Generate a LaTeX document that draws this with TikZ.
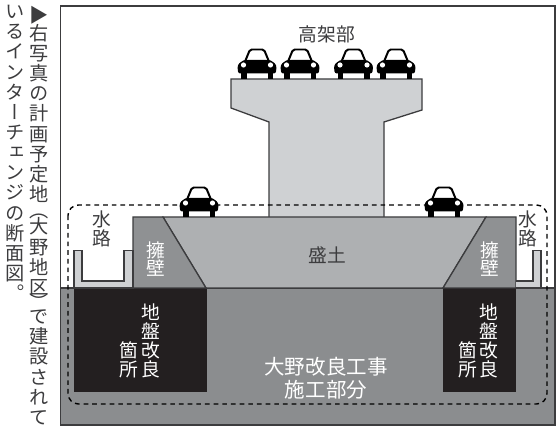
\documentclass[tikz,border=0pt]{standalone}
\usepackage{fontspec}
\setmainfont{Noto Sans CJK JP}
\newfontfamily\jpstack[RawFeature={+vert}]{Noto Sans CJK JP}
\usetikzlibrary{calc}
\definecolor{groundgray}{HTML}{8B8D8F}
\definecolor{wallgray}{HTML}{8F9193}
\definecolor{fillgray}{HTML}{AEB0B2}
\definecolor{piergray}{HTML}{CFD1D3}
\definecolor{edgegray}{HTML}{3C3C3E}
\definecolor{softblack}{HTML}{231F20}
\tikzset{
	section/.style={draw=edgegray, line width=1.1pt, line join=miter},
	label/.style={inner sep=0, align=center, font=\fontsize{16}{16}\selectfont, text=edgegray},
	whitelabel/.style={label, text=white},
	sidetext/.style={inner sep=0, align=center, anchor=north, text=edgegray, font=\fontsize{16.4}{17.2}\selectfont\jpstack}
}
\def\drawcar(#1,#2){
	\begin{scope}[shift={(#1,#2)}]
		\draw[line width=1.7pt, fill=white, rounded corners=1.5pt] (-13, -15) -- (-7, -29.5) -- (7, -29.5) -- (13, -15) -- cycle;
		\fill[black] (-16, -6) rectangle (-10.5, 0);
		\fill[black] (10.5, -6) rectangle (16, 0);
		\fill[black, rounded corners=2pt] (-12, -19) -- (12, -19) -- (15, -18) -- (19.5, -14) -- (19, -5.5) -- (-19, -5.5) -- (-19.5, -14) -- (-15, -18) -- cycle;
		\fill[white] (-13.5, -14) circle (2.6);
		\fill[white] (13.5, -14) circle (2.6);
	\end{scope}
}
\begin{document}
\begin{tikzpicture}[x=0.03cm, y=-0.03cm]
	\useasboundingbox (0, 0) rectangle (556, 427);
	\fill[white] (0, 0) rectangle (556, 427);

	% frame and ground
	\draw[fill=white, draw=edgegray, line width=1.2pt] (60.5, 6) rectangle (555, 425);
	\draw[section, fill=groundgray] (60.5, 288) rectangle (555, 425);

	% improved ground
	\draw[fill=softblack, draw=softblack] (74, 288) rectangle (206, 391);
	\draw[fill=softblack, draw=softblack] (443, 288) rectangle (515, 391);

	% elevated part
	\draw[section, fill=piergray] (269, 217) -- (269, 122) -- (231, 108) -- (231, 79) -- (422, 79) -- (422, 110) -- (384, 122) -- (384, 217);

	% embankment and walls
	\draw[section, fill=fillgray] (163, 217) -- (486, 217) -- (443, 288) -- (206, 288) -- cycle;
	\draw[section, fill=wallgray] (133, 288) -- (133, 217) -- (163, 217) -- (206, 288) -- cycle;
	\draw[section, fill=wallgray] (516, 288) -- (516, 217) -- (486, 217) -- (443, 288) -- cycle;

	% waterways
	\draw[section, fill=piergray] (74, 288) -- (74, 250.5) -- (82, 250.5) -- (82, 281) -- (124, 281) -- (124, 250.5) -- (133, 250.5) -- (133, 288) -- cycle;
	\draw[section, fill=piergray] (516, 281) -- (533, 281) -- (533, 250.5) -- (541, 250.5) -- (541, 288) -- (516, 288);

	% construction area
	\draw[line width=1.2pt, dash pattern=on 4pt off 3.4pt, rounded corners=9pt] (68, 205) rectangle (547, 404);

	% cars
	\drawcar(257, 79)
	\drawcar(300, 79)
	\drawcar(353.5, 79)
	\drawcar(396, 79)
	\drawcar(199, 217)
	\drawcar(444, 217)

	% labels
	\node[label] (kokabu) at (327, 34) {高架部};
	\node[label] (morido) at (327, 255) {盛土};
	\node[label] (suiroL) at (102, 229) {水\\路};
	\node[label] (suiroR) at (528, 229) {水\\路};
	\node[whitelabel] (yohekiL) at (156, 259) {擁\\壁};
	\node[whitelabel] (yohekiR) at (490, 259) {擁\\壁};
	\node[whitelabel] (jibanL) at (151, 341) {地\\盤\\改\\良};
	\node[whitelabel] (kashoL) at (129, 360) {箇\\所};
	\node[whitelabel] (jibanR) at (489, 341) {地\\盤\\改\\良};
	\node[whitelabel] (kashoR) at (468, 360) {箇\\所};
	\node[whitelabel, font=\fontsize{17.5}{19.5}\selectfont] (ono) at (326, 378) {大野改良工事\\施工部分};

	% side text
	\node[label, font=\fontsize{16.4}{16}\selectfont] (mark) at (39, 15) {▶};
	\node[sidetext] (sideA) at (39, 24) {右\\写\\真\\の\\計\\画\\予\\定\\地\\[-3.4pt]（\\[-3.4pt]大\\野\\地\\区\\[-4.7pt]）\\[-4.7pt]で\\建\\設\\さ\\れ\\て};
	\node[sidetext] (sideB) at (15, 5) {い\\る\\イ\\ン\\タ\\ー\\チ\\ェ\\ン\\ジ\\の\\断\\面\\図\\。};
\end{tikzpicture}
\end{document}
